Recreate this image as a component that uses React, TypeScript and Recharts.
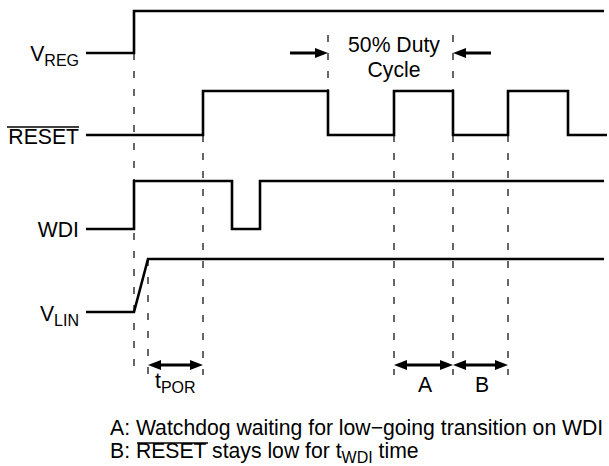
import { ComposedChart, Line, XAxis, YAxis, ReferenceLine } from "recharts";

// time axis in arbitrary units, 0 = power-up edge
const vregTimes = [-48, 0, 0, 470];
const vregLevels = [0, 0, 1, 1];
const resetTimes = [-48, 69, 69, 194, 194, 260, 260, 319, 319, 374, 374, 434, 434, 473];
const resetLevels = [0, 0, 1, 1, 0, 0, 1, 1, 0, 0, 1, 1, 0, 0];
const wdiTimes = [-48, 0, 0, 98, 98, 126, 126, 470];
const wdiLevels = [0, 0, 1, 1, 0, 0, 1, 1];
const vlinTimes = [-48, 0, 14, 470];
const vlinLevels = [0, 0, 1, 1];

// lane low / high positions on the vertical axis (top = 0)
const laneLow = [53, 135, 229, 312];
const laneHigh = [11, 91, 181, 259];

// dashed timing markers
const markerTimes = [0, 14, 69, 194, 260, 319, 319, 374];
const markerFrom = [53, 259, 135, 35, 135, 35, 135, 135];
const markerTo = [375, 375, 375, 91, 375, 91, 375, 375];

// dimension arrows
const spanFrom = [14, 260, 319, 156, 357];
const spanTo = [69, 319, 374, 194, 319];
const spanLevel = [365, 365, 365, 53, 53];
const spanBoth = [true, true, true, false, false];

const FONT = "'Liberation Sans', Arial, Helvetica, sans-serif";

function wave(times: number[], levels: number[], lane: number) {
  return times.map((t, i) => ({
    t,
    y: laneLow[lane] + levels[i] * (laneHigh[lane] - laneLow[lane]),
  }));
}

function head(x: number, y: number, dir: number, key: string) {
  const len = 13;
  const w = 5;
  return (
    <polygon
      key={key}
      points={`${x},${y} ${x - dir * len},${y - w} ${x - dir * len},${y + w}`}
      fill="#000"
    />
  );
}

function ArrowShape(both: boolean) {
  return (props: any) => {
    const { x1, y1, x2, y2 } = props;
    const dir = x2 > x1 ? 1 : -1;
    return (
      <g>
        <line
          x1={both ? x1 + dir * 8 : x1}
          y1={y1}
          x2={x2 - dir * 8}
          y2={y2}
          stroke="#000"
          strokeWidth={3}
        />
        {head(x2, y2, dir, "e")}
        {both ? head(x1, y1, -dir, "s") : null}
      </g>
    );
  };
}

const signals = [
  wave(vregTimes, vregLevels, 0),
  wave(resetTimes, resetLevels, 1),
  wave(wdiTimes, wdiLevels, 2),
  wave(vlinTimes, vlinLevels, 3),
];

export default function App() {
  const txt = { fontFamily: FONT, fontSize: 21.2, fill: "#000" };
  return (
    <div style={{ position: "absolute", left: 0, top: 0, width: 609, height: 466, background: "#fff" }}>
      <ComposedChart width={609} height={466} margin={{ top: 0, right: 0, bottom: 0, left: 0 }}>
        <XAxis dataKey="t" type="number" domain={[-134, 475]} hide allowDataOverflow />
        <YAxis type="number" domain={[0, 466]} reversed hide allowDataOverflow />
        {markerTimes.map((t, i) => (
          <ReferenceLine
            key={"m" + i}
            segment={[
              { x: t, y: markerFrom[i] },
              { x: t, y: markerTo[i] },
            ]}
            stroke="#000"
            strokeWidth={1.2}
            strokeDasharray="7 11"
          />
        ))}
        {signals.map((d, i) => (
          <Line
            key={"s" + i}
            data={d}
            dataKey="y"
            type="linear"
            stroke="#000"
            strokeWidth={2.6}
            strokeLinejoin="miter"
            dot={false}
            activeDot={false}
            isAnimationActive={false}
          />
        ))}
        {spanFrom.map((f, i) => (
          <ReferenceLine
            key={"a" + i}
            segment={[
              { x: f, y: spanLevel[i] },
              { x: spanTo[i], y: spanLevel[i] },
            ]}
            shape={ArrowShape(spanBoth[i])}
          />
        ))}
        <g>
          <text x={79} y={61} textAnchor="end" {...txt}>
            V<tspan fontSize={16} dy={5}>REG</tspan>
          </text>
          <text x={79} y={144} textAnchor="end" {...txt}>
            RESET
          </text>
          <line x1={7} x2={79} y1={127} y2={127} stroke="#000" strokeWidth={1.3} />
          <text x={79} y={237} textAnchor="end" {...txt}>
            WDI
          </text>
          <text x={79} y={321} textAnchor="end" {...txt}>
            V<tspan fontSize={16} dy={5}>LIN</tspan>
          </text>
          <text x={394} y={52} textAnchor="middle" {...txt}>
            50% Duty
          </text>
          <text x={394} y={77} textAnchor="middle" {...txt}>
            Cycle
          </text>
          <text x={155} y={388} {...txt}>
            t<tspan fontSize={16} dy={5}>POR</tspan>
          </text>
          <text x={425} y={392} textAnchor="middle" {...txt}>
            A
          </text>
          <text x={482} y={392} textAnchor="middle" {...txt}>
            B
          </text>
          <text x={110} y={435} {...txt}>
            A: Watchdog waiting for low−going transition on WDI
          </text>
          <text x={110} y={458} {...txt}>
            B: RESET stays low for t
            <tspan fontSize={16} dy={5}>WDI</tspan>
            <tspan dy={-5}> time</tspan>
          </text>
          <line x1={137} x2={208} y1={443} y2={443} stroke="#000" strokeWidth={1.3} />
        </g>
      </ComposedChart>
    </div>
  );
}
